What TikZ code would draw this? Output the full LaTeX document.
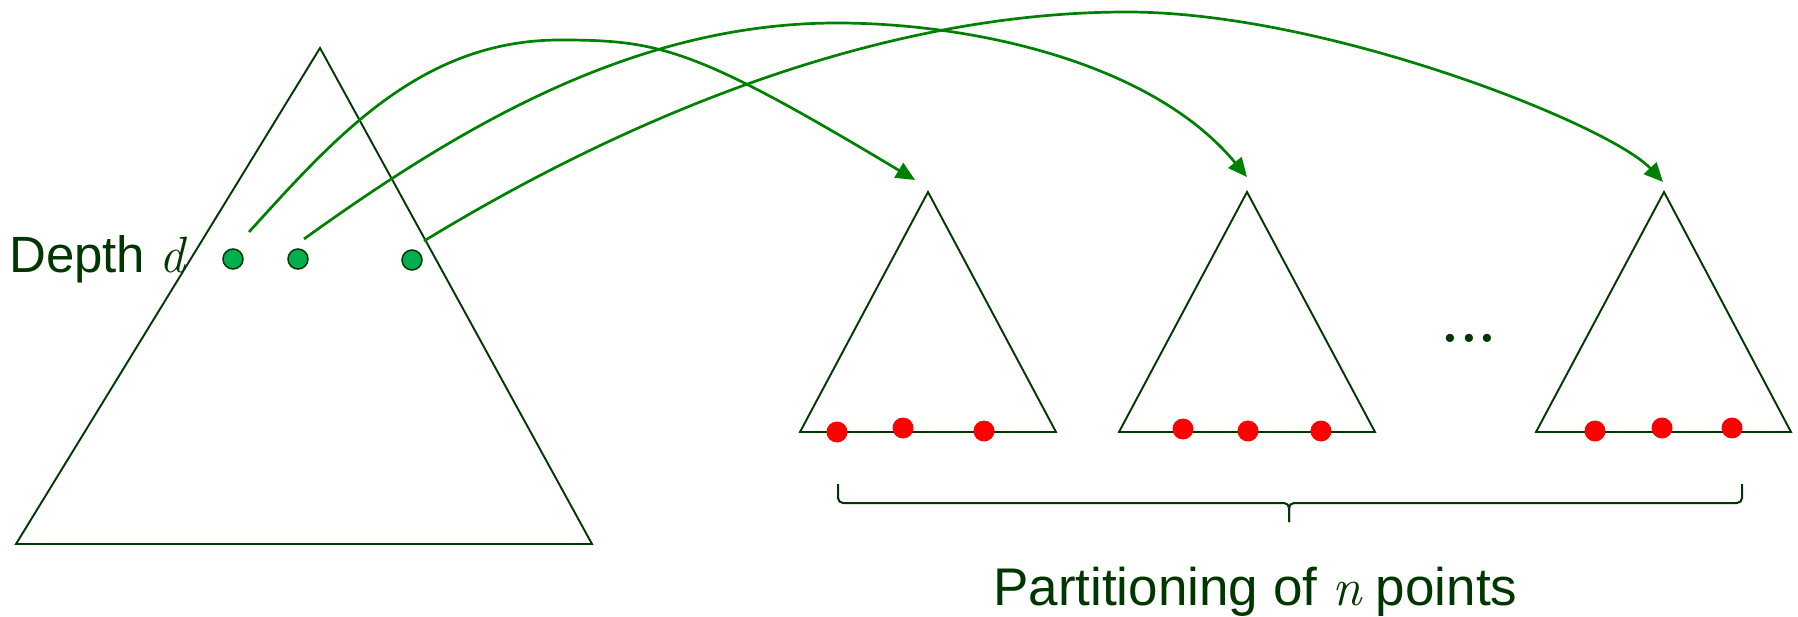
\documentclass[tikz,border=0pt]{standalone}
\usepackage{fontspec}
\setmainfont{Liberation Sans}
\newfontfamily\lmit{Latin Modern Roman}
\usetikzlibrary{arrows.meta}
\definecolor{dkgreen}{RGB}{0,55,0}
\definecolor{arrgreen}{RGB}{0,128,0}
\definecolor{dotgreen}{RGB}{0,176,80}
\newcommand{\varit}[1]{{\lmit\itshape #1}}
\begin{document}
\begin{tikzpicture}[x=1pt,y=-1pt,
  tri/.style={draw=dkgreen, line width=1.9pt, line join=miter},
  link/.style={draw=arrgreen, line width=2.7pt, -{Triangle[length=19pt,width=17pt]}},
  gdot/.style={circle, draw=dkgreen, line width=1.5pt, fill=dotgreen, minimum size=20pt, inner sep=0pt},
  rdot/.style={circle, fill=red, minimum size=21pt, inner sep=0pt},
  lbl/.style={text=dkgreen, inner sep=0pt, anchor=base west},
  bracestyle/.style={draw=dkgreen, line width=2pt, rounded corners=5pt}]
\useasboundingbox (0,0) rectangle (1798,617);

% triangle corners
\coordinate (bigA) at (320,48);
\coordinate (bigL) at (16,544);
\coordinate (bigR) at (592,544);
\coordinate (t1A) at (928,192);
\coordinate (t1L) at (800,432);
\coordinate (t1R) at (1056,432);
\coordinate (t2A) at (1247,192);
\coordinate (t2L) at (1119,432);
\coordinate (t2R) at (1375,432);
\coordinate (t3A) at (1664,192);
\coordinate (t3L) at (1536,432);
\coordinate (t3R) at (1791,432);

\draw[tri] (bigA) -- (bigL) -- (bigR) -- cycle;
\draw[tri] (t1A) -- (t1L) -- (t1R) -- cycle;
\draw[tri] (t2A) -- (t2L) -- (t2R) -- cycle;
\draw[tri] (t3A) -- (t3L) -- (t3R) -- cycle;

% connector ends
\coordinate (s1) at (249,232);
\coordinate (s2) at (304,239);
\coordinate (s3) at (424,241);
\coordinate (e1) at (915,180);
\coordinate (e2) at (1247,177);
\coordinate (e3) at (1663,182);

\draw[link] (s1) .. controls (334,138.5) and (420,40) .. (560,40)
                 .. controls (660,40) and (695,48) .. (e1);
\draw[link] (s2) .. controls (464,123.8) and (637,23) .. (837,23)
                 .. controls (967,23) and (1150,60) .. (e2);
\draw[link] (s3) .. controls (624,119) and (877,12) .. (1127,12)
                 .. controls (1327,12) and (1610,125) .. (e3);

% depth nodes
\node[gdot] (g1) at (233,259) {};
\node[gdot] (g2) at (298,259) {};
\node[gdot] (g3) at (412,260) {};

% leaf points
\node[rdot] (r11) at (837,432) {};
\node[rdot] (r12) at (903,428) {};
\node[rdot] (r13) at (984,431) {};
\node[rdot] (r21) at (1183,429) {};
\node[rdot] (r22) at (1248,431) {};
\node[rdot] (r23) at (1321,431) {};
\node[rdot] (r31) at (1595,431) {};
\node[rdot] (r32) at (1662,428) {};
\node[rdot] (r33) at (1732,428) {};

% ellipsis
\node[text=dkgreen, inner sep=0pt, anchor=base, font=\lmit\fontsize{57}{60}\selectfont\bfseries] (ell) at (1469,342) {.\kern1pt.\kern1pt.};

% brace
\coordinate (bL) at (838,484);
\coordinate (bR) at (1742,484);
\coordinate (bM) at (1289,503);
\coordinate (bT) at (1289,522);
\draw[bracestyle] (bL) -- (838,503) -- (bM) -- (bT);
\draw[bracestyle] (bR) -- (1742,503) -- (bM) -- (bT);

% labels
\node[lbl, font=\fontsize{51}{60}\selectfont] (depth) at (9,273) {Depth \varit{d}};
\node[lbl, font=\fontsize{53}{62}\selectfont] (part) at (993,605) {Partitioning of \varit{n} points};
\end{tikzpicture}
\end{document}
